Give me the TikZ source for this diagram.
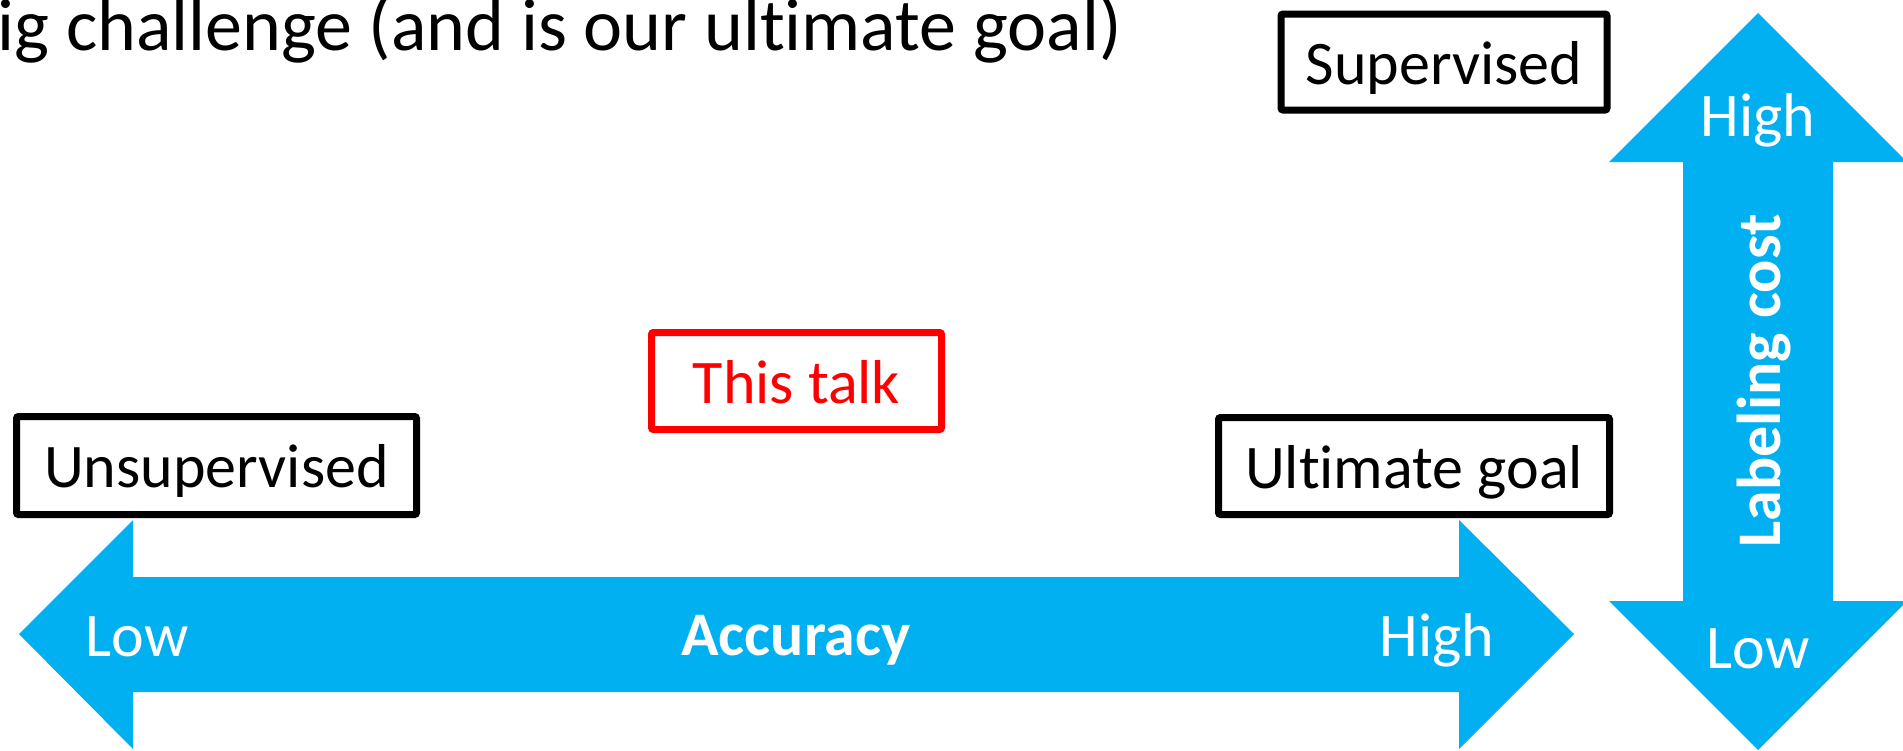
\documentclass[tikz,border=0pt]{standalone}
\usepackage{fontspec}
\setmainfont{Carlito}[Ligatures={NoCommon}]
\definecolor{arrowblue}{HTML}{00B0F0}
\definecolor{talkred}{HTML}{FF0000}
\begin{document}
\begin{tikzpicture}[x=1pt,y=-1pt,
  boxstyle/.style={draw=black, line width=7pt, rounded corners=2pt, inner sep=0pt,
    text height=44pt, text depth=0pt, font=\fontsize{62}{70}\selectfont},
  arrowtext/.style={text=white, inner sep=0pt, anchor=base, font=\fontsize{62}{70}\selectfont},
  arrowbold/.style={arrowtext, font=\fontsize{62}{70}\selectfont\bfseries}]
\useasboundingbox (0,0) rectangle (1903,750);
% title
\node[anchor=base east, inner sep=0pt, font=\fontsize{74}{80}\selectfont] (title) at (1122,50) {ig challenge (and is our ultimate goal)};
% horizontal arrow
\fill[arrowblue] (19,634) -- (133,520) -- (133,577) -- (1459,577) -- (1459,520) -- (1574,634)
  -- (1459,749) -- (1459,692) -- (133,692) -- (133,749) -- cycle;
% vertical arrow
\fill[arrowblue] (1758,13) -- (1907,162) -- (1833,162) -- (1833,601) -- (1907,601) -- (1758,750)
  -- (1609,601) -- (1683,601) -- (1683,162) -- (1609,162) -- cycle;
% arrow labels
\node[arrowtext] (lowacc) at (137,656) {Low};
\node[arrowtext] (highacc) at (1437,656) {High};
\node[arrowbold] (acc) at (796,655) {Accuracy};
\node[arrowtext] (highcost) at (1758,136) {High};
\node[arrowtext] (lowcost) at (1758,668) {Low};
\node[arrowbold, rotate=90] (cost) at (1780,381) {Labeling cost};
% boxes
\node[boxstyle, minimum width=400pt, minimum height=98pt] (unsup) at (216.5,465.5) {Unsupervised};
\node[boxstyle, minimum width=391pt, minimum height=97pt] (ult) at (1414,466) {Ultimate goal};
\node[boxstyle, draw=talkred, text=talkred, minimum width=290pt, minimum height=97pt] (talk) at (796.5,381) {This talk};
\node[boxstyle, minimum width=326pt, minimum height=96pt] (sup) at (1444,62) {Supervised};
\end{tikzpicture}
\end{document}
